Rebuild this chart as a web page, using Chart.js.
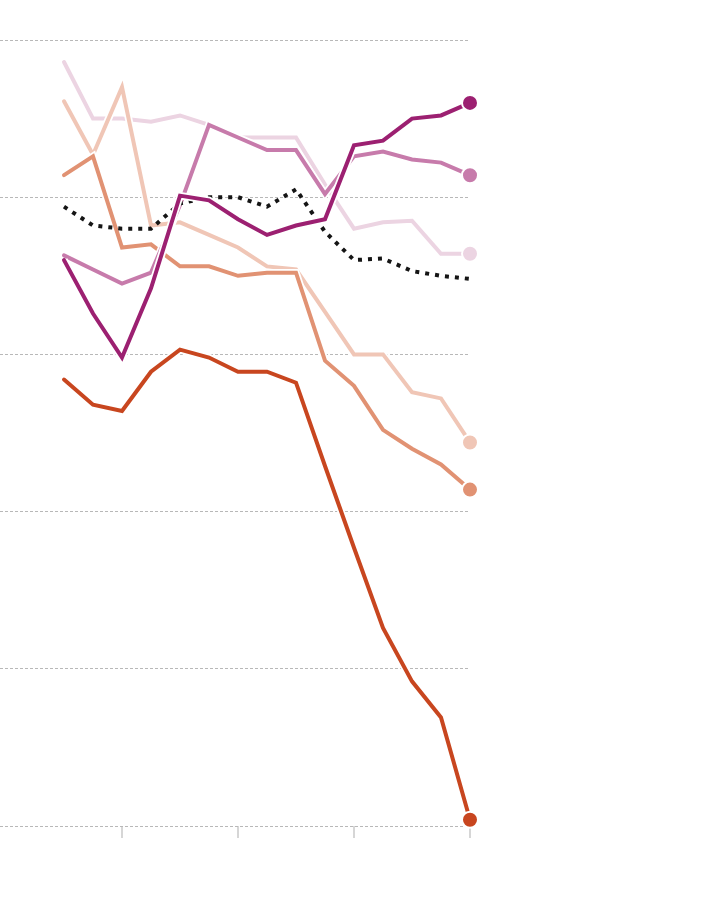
<!DOCTYPE html>
<html>
<head>
<meta charset="utf-8">
<script src="https://cdn.jsdelivr.net/npm/chart.js@4"></script>
<style>
  body { margin: 0; background: #fff; }
  canvas { display: block; }
</style>
</head>
<body>
<canvas id="grafico" width="710" height="920"></canvas>
<script>
// 15 puntos, marcas del eje x cada 4
const posiciones = [0, 1, 2, 3, 4, 5, 6, 7, 8, 9, 10, 11, 12, 13, 14];
const marcasX = [2, 6, 10, 14];
const marcasY = [0, 10, 20, 30, 40, 50];

const serieMagenta = [36.0, 32.6, 29.8, 34.2, 40.1, 39.8, 38.6, 37.6, 38.2, 38.6, 43.3, 43.6, 45.0, 45.2, 46.0];
const serieRosa = [36.3, 35.4, 34.5, 35.2, 39.5, 44.6, 43.8, 43.0, 43.0, 40.2, 42.6, 42.9, 42.4, 42.2, 41.4];
const serieRosaClaro = [48.6, 45.0, 45.0, 44.8, 45.2, 44.6, 43.8, 43.8, 43.8, 40.8, 38.0, 38.4, 38.5, 36.4, 36.4];
const serieDurazno = [46.1, 42.7, 47.0, 38.2, 38.4, 37.6, 36.8, 35.6, 35.4, 32.7, 30.0, 30.0, 27.6, 27.2, 24.4];
const serieSalmon = [41.4, 42.6, 36.8, 37.0, 35.6, 35.6, 35.0, 35.2, 35.2, 29.6, 28.0, 25.2, 24.0, 23.0, 21.4];
const serieRoja = [28.4, 26.8, 26.4, 28.9, 30.3, 29.8, 28.9, 28.9, 28.2, 22.9, 17.7, 12.6, 9.2, 6.9, 0.4];
const seriePromedio = [39.4, 38.2, 38.0, 38.0, 39.6, 40.0, 40.0, 39.4, 40.5, 37.8, 36.0, 36.1, 35.3, 35.0, 34.8];

// orden de dibujo: la primera queda encima
const lineas = [
  { datos: serieMagenta, color: "#9c2071", punto: true },
  { datos: serieRoja, color: "#c8461f", punto: true },
  { datos: seriePromedio, color: "#151515", punto: false, puntos: true },
  { datos: serieRosa, color: "#c77bab", punto: true },
  { datos: serieSalmon, color: "#e19273", punto: true },
  { datos: serieDurazno, color: "#f0c6b6", punto: true },
  { datos: serieRosaClaro, color: "#ecd4e2", punto: true },
];

const ultimo = posiciones.length - 1;
const datasets = [];
lineas.forEach((l, i) => {
  const puntos = l.datos.map((v, j) => ({ x: posiciones[j], y: v }));
  if (!l.puntos) {
    // borde blanco detras de cada linea
    datasets.push({
      data: puntos,
      borderColor: "#ffffff",
      borderWidth: 7.5,
      pointRadius: 0,
      tension: 0,
      clip: false,
      order: i * 2 + 1,
    });
  }
  datasets.push({
    data: puntos,
    borderColor: l.color,
    backgroundColor: l.color,
    borderWidth: 4,
    borderDash: l.puntos ? [4, 6] : [],
    borderCapStyle: l.puntos ? "butt" : "round",
    pointRadius: (ctx) => (l.punto && ctx.dataIndex === ultimo ? 8 : 0),
    pointBorderColor: "#ffffff",
    pointBorderWidth: 2,
    pointBackgroundColor: l.color,
    tension: 0,
    clip: false,
    order: i * 2,
  });
});

const grafica = new Chart(document.getElementById("grafico"), {
  type: "line",
  data: { datasets: datasets },
  options: {
    responsive: false,
    animation: false,
    devicePixelRatio: 1,
    layout: { autoPadding: false, padding: { top: 40, right: 240, bottom: 82, left: 0 } },
    plugins: { legend: { display: false }, tooltip: { enabled: false } },
    scales: {
      x: {
        type: "linear",
        min: -64 / 29,
        max: 14,
        afterBuildTicks: (s) => {
          s.ticks = marcasX.map((v) => ({ value: v }));
        },
        border: { display: false },
        grid: {
          drawOnChartArea: false,
          drawTicks: true,
          tickLength: 12,
          color: "#d6d6d6",
          lineWidth: 2,
        },
        ticks: { display: false },
      },
      y: {
        type: "linear",
        min: 0,
        max: 50,
        afterBuildTicks: (s) => {
          s.ticks = marcasY.map((v) => ({ value: v }));
        },
        afterFit: (s) => {
          s.width = 0;
        },
        border: { display: false, dash: [3, 2] },
        grid: {
          drawTicks: false,
          color: "#b8b8b8",
          lineWidth: 1,
        },
        ticks: { display: false },
      },
    },
  },
});
</script>
</body>
</html>
